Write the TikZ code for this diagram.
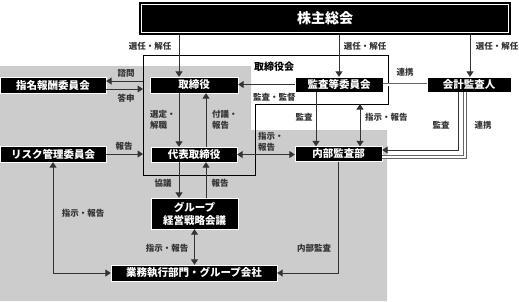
\documentclass[tikz,border=0pt]{standalone}
\usepackage{fontspec}
\setmainfont{Noto Sans CJK JP}
\usetikzlibrary{arrows.meta}
\definecolor{bggray}{HTML}{CCCCCC}
\definecolor{ln}{HTML}{333333}
\tikzset{
  blk/.style={fill=black, draw=white, line width=0.4pt, text=white, inner sep=0pt,
    font=\fontsize{10.5}{12}\selectfont\bfseries, align=center},
  lbl/.style={inner sep=0pt, font=\fontsize{8.5}{11}\selectfont\bfseries, text=ln, align=left},
  arr/.style={draw=ln, line width=1pt, -{Triangle[width=7pt,length=5.5pt]}},
  arrb/.style={draw=ln, line width=1pt, {Triangle[width=7pt,length=5.5pt]}-{Triangle[width=7pt,length=5.5pt]}},
  dbl/.style={draw=ln!75, line width=0.8pt, double=white, double distance=2pt},
  frame/.style={draw=black, line width=0.9pt},
}
\begin{document}
\begin{tikzpicture}[x=1pt,y=-1pt]
\useasboundingbox (0,0) rectangle (519,301);
% gray background
\fill[bggray] (0,66) -- (251,66) -- (251,130) -- (387,130) -- (387,301) -- (0,301) -- cycle;
% board frame
\draw[frame] (143,55) -- (388,55) -- (388,104) -- (255,104) -- (255,175) -- (143,175) -- cycle;
\node[inner sep=0pt, anchor=west, font=\fontsize{10}{12}\selectfont\bfseries] (tbk) at (254,67) {取締役会};
\node[lbl, anchor=west] (kk) at (253,97) {監査・監督};

% nodes
\node[fill=black, inner sep=0pt, minimum width=372pt, minimum height=33pt, text=white,
  font=\fontsize{14}{16}\selectfont\bfseries] (shr) at (325,18.5) {株主総会};
\draw[white, line width=0.8pt] ([shift={(2.5pt,2.5pt)}]shr.south west) rectangle ([shift={(-2.5pt,-2.5pt)}]shr.north east);
\node[blk, minimum width=88pt, minimum height=16pt] (tori) at (194,85) {取締役};
\node[blk, minimum width=106pt, minimum height=16pt] (shimei) at (53,85) {指名報酬委員会};
\node[blk, minimum width=88pt, minimum height=15pt] (kansa) at (339,84.5) {監査等委員会};
\node[blk, minimum width=84pt, minimum height=15pt] (kaikei) at (469,84.5) {会計監査人};
\node[blk, minimum width=86pt, minimum height=15pt] (daihyo) at (194,154.5) {代表取締役};
\node[blk, minimum width=106pt, minimum height=16pt] (risk) at (53,154) {リスク管理委員会};
\node[blk, minimum width=87pt, minimum height=15pt] (naibu) at (338.5,154) {内部監査部};
\node[blk, minimum width=87pt, minimum height=31pt, font=\fontsize{10.5}{13}\selectfont\bfseries] (group) at (194.5,213.5) {グループ\\経営戦略会議};
\node[blk, minimum width=166pt, minimum height=16pt] (gyomu) at (194,273) {業務執行部門・グループ会社};

% frame coordinates
\coordinate (fA) at (143,81);
\coordinate (fB) at (143,89);
\coordinate (fC) at (143,154);
\coordinate (fD) at (360,104);

% shareholders
\draw[arr] (179,0 |- shr.south) -- (179,0 |- tori.north);
\draw[arr] (339,0 |- shr.south) -- (kansa.north);
\draw[arr] (470,0 |- shr.south) -- (470,0 |- kaikei.north);
\node[lbl] at (150,46) {選任・解任};
\node[lbl] at (365,46) {選任・解任};
\node[lbl] at (497,46) {選任・解任};

% board
\draw[arr] (kansa.west) -- (kansa.west -| tori.east);
\draw[arr] (fA) -- (fA -| shimei.east);
\draw[arr] (fB -| shimei.east) -- (fB);
\node[lbl] at (126,73) {諮問};
\node[lbl] at (126,98) {答申};

\draw[arr] (179,0 |- tori.south) -- (179,0 |- daihyo.north);
\draw[arr] (206,0 |- daihyo.north) -- (206,0 |- tori.south);
\node[lbl, anchor=west] at (150,119.5) {選定・\\解職};
\node[lbl, anchor=west] at (212,119.5) {付議・\\報告};

\draw[arr] (risk.east |- fC) -- (fC);
\node[lbl] at (124,146) {報告};

\draw[arrb] (daihyo.east) -- (daihyo.east -| naibu.west);
\node[lbl, anchor=west] at (258,141.5) {指示・\\報告};

\draw[arr] (316,0 |- kansa.south) -- (316,0 |- naibu.north);
\node[lbl] at (304,117) {監査};
\draw[arrb] (fD) -- (fD |- naibu.north);
\node[lbl, anchor=west] at (365,117) {指示・報告};

\draw[dbl] (kansa.east) -- (kansa.east -| kaikei.west);
\node[lbl] at (405,72) {連携};

\draw[arr] (458,0 |- kaikei.south) |- (naibu.east |- 0,150);
\node[lbl] at (441,125) {監査};
\draw[dbl] (465,0 |- kaikei.south) |- (naibu.east |- 0,157);
\node[lbl] at (483,125) {連携};

% lower part
\draw[arr] (179,0 |- daihyo.south) -- (179,0 |- group.north);
\draw[arr] (206,0 |- group.north) -- (206,0 |- daihyo.south);
\node[lbl] at (163,183) {協議};
\node[lbl] at (220,183) {報告};

\draw[arrb] (group.south) -- (group.south |- gyomu.north);
\node[lbl] at (167,248) {指示・報告};

\draw[arrb] (53,0 |- risk.south) |- (gyomu.west);
\node[lbl] at (83,213) {指示・報告};

\draw[arr] (338,0 |- naibu.south) |- (gyomu.east);
\node[lbl] at (314,248) {内部監査};
\end{tikzpicture}
\end{document}
